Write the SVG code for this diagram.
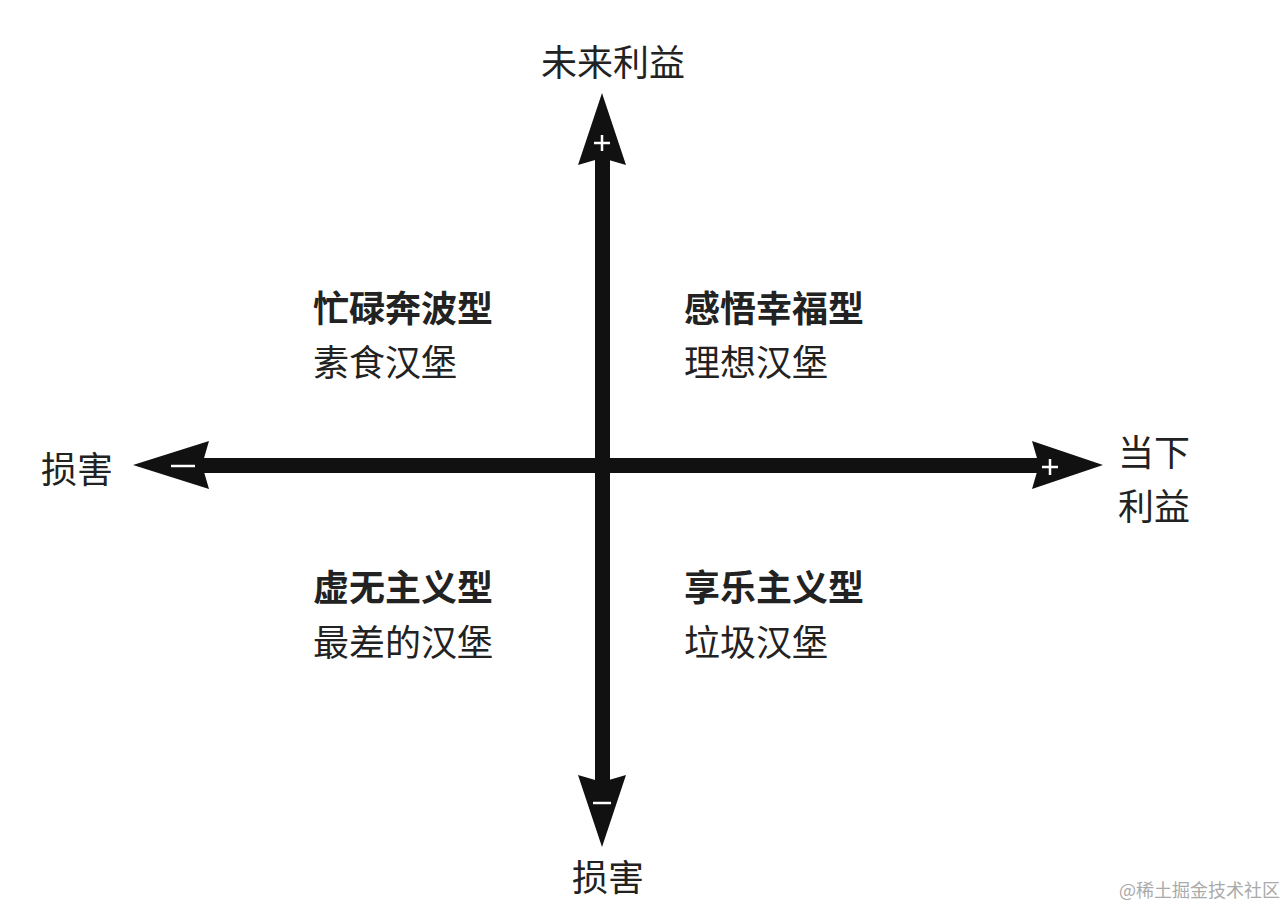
<svg xmlns="http://www.w3.org/2000/svg" width="1286" height="910" viewBox="0 0 1286 910">
<style>
.t{font-family:"Noto Sans CJK SC","Noto Sans",sans-serif;font-size:36px;fill:#222;dominant-baseline:central}
.b{font-weight:bold}
.ax{fill:#111}
.mk{stroke:#fff;stroke-width:2.5;fill:none}
.wm{font-family:"Noto Sans CJK SC",sans-serif;font-size:18px;fill:#aaa;dominant-baseline:central}
</style>
<rect width="1286" height="910" fill="#fff"/>
<g id="connectors">
  <rect class="ax" x="595" y="150" width="15" height="640"/>
  <rect class="ax" x="195" y="458" width="850" height="15"/>
  <polygon class="ax" points="602,93 626,165 602,158 578,165"/>
  <polygon class="ax" points="602,847 626,775 602,782 578,775"/>
  <polygon class="ax" points="133,465 209,441 202,465 209,489"/>
  <polygon class="ax" points="1103,465 1032,441 1039,465 1032,489"/>
  <path class="mk" d="M594,143 H610 M602,135 V151"/>
  <path class="mk" d="M593,803 H611"/>
  <path class="mk" d="M171,466 H195"/>
  <path class="mk" d="M1042,467 H1058 M1050,459 V475"/>
</g>
<g id="axis-top"><text class="t" x="613" y="60" text-anchor="middle">未来利益</text></g>
<g id="axis-left"><text class="t" x="41" y="467">损害</text></g>
<g id="axis-right"><text class="t" x="1118" y="450">当下</text><text class="t" x="1118" y="504">利益</text></g>
<g id="axis-bottom"><text class="t" x="608" y="875" text-anchor="middle">损害</text></g>
<g id="q-top-left"><text class="t b" x="313" y="306">忙碌奔波型</text><text class="t" x="313" y="360">素食汉堡</text></g>
<g id="q-top-right"><text class="t b" x="684" y="306">感悟幸福型</text><text class="t" x="684" y="360">理想汉堡</text></g>
<g id="q-bottom-left"><text class="t b" x="313" y="585">虚无主义型</text><text class="t" x="313" y="640">最差的汉堡</text></g>
<g id="q-bottom-right"><text class="t b" x="684" y="585">享乐主义型</text><text class="t" x="684" y="640">垃圾汉堡</text></g>
<g id="watermark"><text class="wm" x="1119" y="889">@稀土掘金技术社区</text></g>
</svg>
